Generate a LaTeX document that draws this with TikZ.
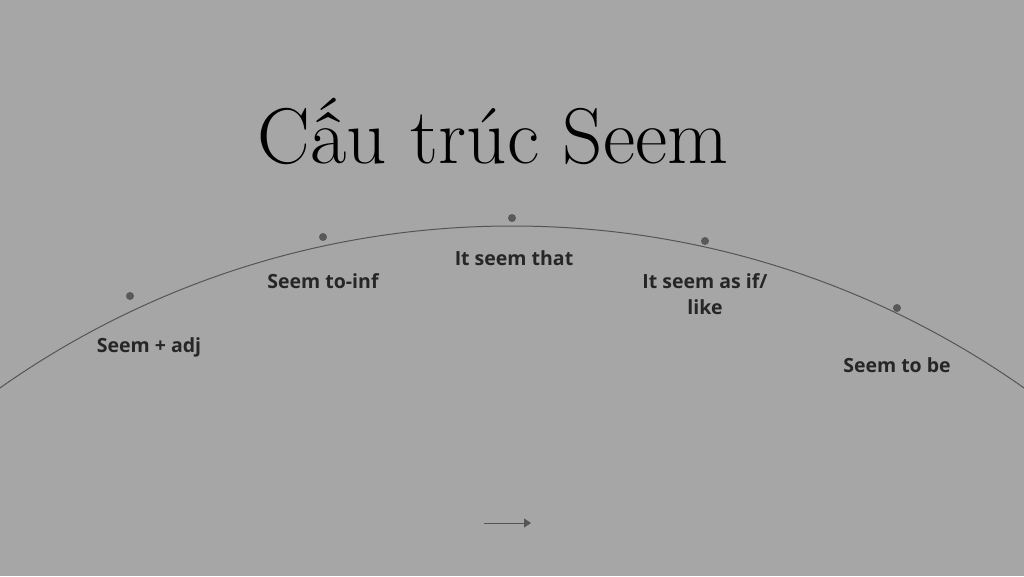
\documentclass[tikz,border=0pt]{standalone}
\usepackage{fontspec}
\usetikzlibrary{arrows.meta}
\newfontfamily\labelfont{Open Sans}
\definecolor{bggray}{HTML}{A6A6A6}
\definecolor{arcgray}{HTML}{555555}
\definecolor{dotgray}{HTML}{595959}
\definecolor{textdark}{HTML}{262626}
\tikzset{
  seemdot/.style={circle,fill=dotgray,inner sep=0pt,minimum size=8pt},
  seemlabel/.style={anchor=base,font=\labelfont\bfseries\fontsize{19.5}{26}\selectfont,
    text=textdark,align=center,inner sep=0pt}
}
\begin{document}
\begin{tikzpicture}[x=1pt,y=1pt]
        % Draw the background
        \fill[bggray] (0,0) rectangle (1024,-576);
        \useasboundingbox (0,0) rectangle (1024,-576);

        % Add title
        \node[anchor=base,inner sep=0pt,font=\fontsize{79}{90}\selectfont] (title) at (493,-163) {Cấu trúc Seem};

        % Draw the arc
        \begin{scope}
            \clip (0,0) rectangle (1024,-576);
            \draw[arcgray,line width=1pt] (512,-1116) circle (890pt);
        \end{scope}

        % Mark the points on the arc
        \foreach \name/\x/\y in {adj/130/296, inf/323/237, that/512/218, asif/705/241, tobe/897/308} {
            \node[seemdot] (dot-\name) at (\x,-\y) {};
        }

        % Label the points
        \node[seemlabel] (lbl-adj) at (149,-352) {Seem + adj};
        \node[seemlabel] (lbl-inf) at (323,-288) {Seem to-inf};
        \node[seemlabel] (lbl-that) at (514,-265) {It seem that};
        \node[seemlabel] (lbl-asif) at (705,-314) {It seem as if/\\like};
        \node[seemlabel] (lbl-tobe) at (897,-372) {Seem to be};

        % Draw the small arrow
        \coordinate (arrow-start) at (484,-523);
        \coordinate (arrow-end) at (531,-523);
        \draw[arcgray,line width=0.8pt,-{Triangle[length=7pt,width=9pt]}] (arrow-start) -- (arrow-end);
    \end{tikzpicture}
\end{document}
